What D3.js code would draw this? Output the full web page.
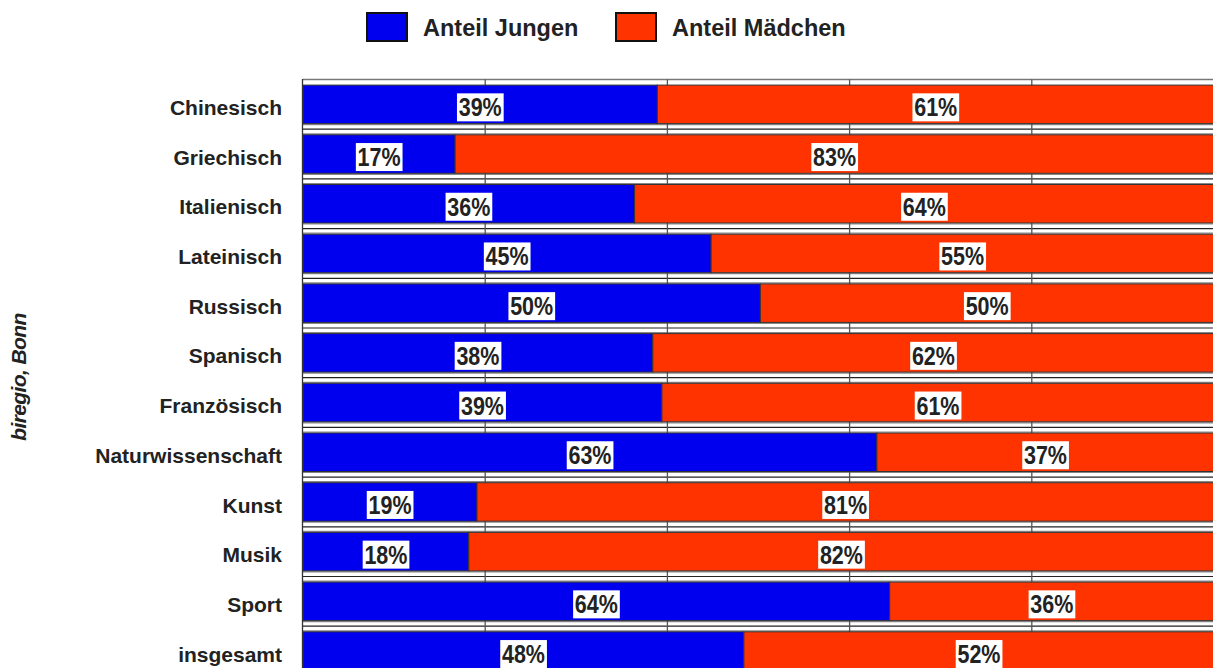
<!DOCTYPE html>
<html><head><meta charset="utf-8">
<script src="https://cdn.jsdelivr.net/npm/d3@7"></script>
<style>body{margin:0;background:#fff;overflow:hidden}svg{display:block;font-family:"Liberation Sans",Arial,sans-serif}</style>
</head><body><svg id="c" width="1213" height="668"></svg>
<script>
const categories = ["Chinesisch","Griechisch","Italienisch","Lateinisch","Russisch","Spanisch","Französisch","Naturwissenschaft","Kunst","Musik","Sport","insgesamt"];
const jungen = [38.9,16.7,36.4,44.8,50.2,38.4,39.4,63.0,19.1,18.2,64.4,48.4];
const maedchen = [61.1,83.3,63.6,55.2,49.8,61.6,60.6,37.0,80.9,81.8,35.6,51.6];
const seriesNames = ["Anteil Jungen","Anteil Mädchen"];
const xTicks = [20,40,60,80];
const colors = ["#0000ee","#ff3300"];

const svg = d3.select("#c");
const x = d3.scaleLinear().domain([0,100]).range([303,1214]);
const y = d3.scaleBand().domain(categories).range([79.5, 79.5+12*49.7]).paddingInner(0.225).paddingOuter(0.1125);
const step = y.step();

// horizontal lines
const gl = svg.append("g");
gl.append("line").attr("x1",x(0)).attr("x2",x(100)).attr("y1",79.5).attr("y2",79.5).attr("stroke","#777").attr("stroke-width",1.5);
for(let k=1;k<categories.length;k++){
  const b = 79.5 + k*step;
  gl.append("line").attr("x1",x(0)).attr("x2",x(100)).attr("y1",b-4.6).attr("y2",b-4.6).attr("stroke","#888").attr("stroke-width",1.2);
  gl.append("line").attr("x1",x(0)).attr("x2",x(100)).attr("y1",b).attr("y2",b).attr("stroke","#222").attr("stroke-width",1.2);
  gl.append("line").attr("x1",x(0)).attr("x2",x(100)).attr("y1",b+4.6).attr("y2",b+4.6).attr("stroke","#888").attr("stroke-width",1.2);
}
// vertical grid
gl.selectAll("line.v").data(xTicks).join("line").attr("class","v")
  .attr("x1",d=>x(d)).attr("x2",d=>x(d)).attr("y1",79.5).attr("y2",700)
  .attr("stroke","#555").attr("stroke-width",1.3);

// bars
const rows = categories.map((c,i)=>({c, vals:[jungen[i],maedchen[i]]}));
const bars = svg.append("g");
rows.forEach(r=>{
  let acc=0;
  r.vals.forEach((v,j)=>{
    bars.append("rect").attr("x",x(acc)).attr("y",y(r.c)).attr("width",x(acc+v)-x(acc)).attr("height",y.bandwidth())
      .attr("fill",colors[j]).attr("stroke","#333").attr("stroke-width",1);
    acc+=v;
  });
});
// left axis line
svg.append("line").attr("x1",302.5).attr("x2",302.5).attr("y1",79).attr("y2",700).attr("stroke","#333").attr("stroke-width",1.3);

// value labels
const lab = svg.append("g");
rows.forEach(r=>{
  let acc=0;
  r.vals.forEach((v,j)=>{
    const cx = x(acc+v/2), cy = y(r.c)+y.bandwidth()/2+3;
    const g = lab.append("g").attr("transform",`translate(${cx},${cy}) scale(0.86,1)`);
    const rect = g.append("rect").attr("fill","#fff");
    const t = g.append("text").attr("text-anchor","middle").attr("y",9).attr("font-size",25).attr("font-weight","bold")
      .attr("fill","#222").text(Math.round(v)+"%");
    const bb = t.node().getBBox();
    rect.attr("x",bb.x-2).attr("width",bb.width+4).attr("y",-14).attr("height",28);
    acc+=v;
  });
});

// category axis
const ax = svg.append("g").attr("transform","translate(303,3)").call(d3.axisLeft(y).tickSize(0).tickPadding(21));
ax.select(".domain").remove();
ax.selectAll("text").attr("font-size",21).attr("font-weight","bold").attr("fill","#222")
  .attr("font-family","'Liberation Sans',Arial,sans-serif").attr("dy","0.36em");

// legend
const lg = svg.append("g");
const lx = [367,616], tx=[423,672];
seriesNames.forEach((n,i)=>{
  lg.append("rect").attr("x",lx[i]).attr("y",13).attr("width",40).attr("height",28).attr("fill",colors[i]).attr("stroke","#111").attr("stroke-width",2);
  lg.append("text").attr("x",tx[i]).attr("y",36).attr("font-size",23.5).attr("font-weight","bold").attr("fill","#222").text(n);
});

// source
svg.append("text").attr("transform","translate(26,377) rotate(-90)").attr("text-anchor","middle")
  .attr("font-size",21).attr("font-weight","bold").attr("font-style","italic").attr("letter-spacing",-0.6).attr("fill","#222").text("biregio, Bonn");
</script></body></html>
